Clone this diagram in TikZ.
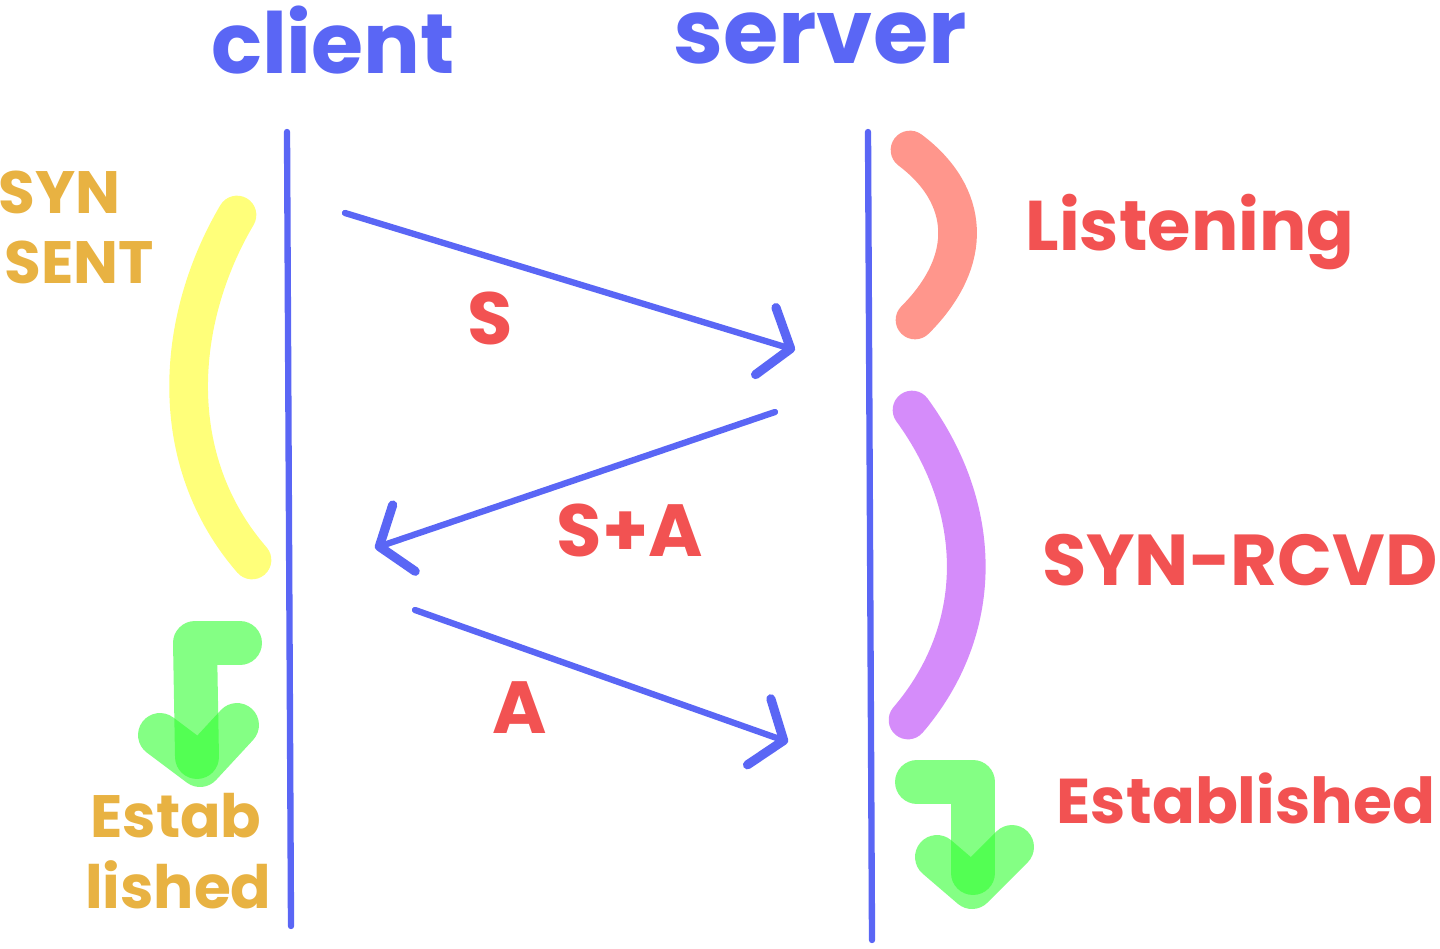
\documentclass[tikz,border=0pt]{standalone}
\usepackage{fontspec}
\setmainfont{Poppins}
\usetikzlibrary{arrows.meta, positioning}

\definecolor{lineblue}{RGB}{90,102,245}
\definecolor{msgred}{RGB}{242,82,82}
\definecolor{stateorange}{RGB}{232,178,66}
\definecolor{synyellow}{RGB}{255,255,122}
\definecolor{listensalmon}{RGB}{255,150,140}
\definecolor{rcvdpurple}{RGB}{213,140,250}
\definecolor{estgreen}{RGB}{50,255,50}

\begin{document}
\begin{tikzpicture}[
    x=0.01cm, y=-0.01cm,
    % Styles
    title/.style={font=\fontsize{24}{28}\selectfont\bfseries, text=lineblue},
    lifeline/.style={draw=lineblue, line width=1.8pt, line cap=round},
    msgarrow/.style={lineblue, line width=1.8pt, line cap=round,
        -{Straight Barb[length=2.6mm, width=7mm, line width=2.6pt, round]}},
    msglabel/.style={font=\fontsize{21}{24}\selectfont\bfseries, text=msgred},
    statelabel/.style={font=\fontsize{20}{22}\selectfont\bfseries, text=msgred},
    sidelabel/.style={font=\fontsize{17}{20}\selectfont\bfseries, text=stateorange},
    phasearc/.style={line width=11pt, line cap=round},
    greenarrow/.style={draw=estgreen, line width=12.5pt, line cap=round, line join=round, opacity=0.6},
]
    \useasboundingbox (0,0) rectangle (1440,949);

    % Titles
    \node[title] (client) at (333,40) {client};
    \node[title, font=\fontsize{25.5}{28}\selectfont\bfseries] (server) at (820,38) {server};

    % Lifelines
    \coordinate (ctop) at (287,132);
    \coordinate (cbot) at (291,926);
    \coordinate (stop) at (868,132);
    \coordinate (sbot) at (872,940);
    \draw[lifeline] (ctop) -- (cbot);
    \draw[lifeline] (stop) -- (sbot);

    % Handshake messages
    \coordinate (synA) at (345,213);
    \coordinate (synB) at (795,350);
    \coordinate (sackA) at (775,412);
    \coordinate (sackB) at (375,548);
    \coordinate (ackA) at (415,610);
    \coordinate (ackB) at (788,742);
    \draw[msgarrow] (synA) -- (synB);
    \draw[msgarrow] (sackA) -- (sackB);
    \draw[msgarrow] (ackA) -- (ackB);

    \node[msglabel] (slabel) at (490,318) {S};
    \node[msglabel] (salabel) at (630,530) {S+A};
    \node[msglabel] (alabel) at (520,708) {A};

    % State arcs
    \draw[phasearc, synyellow] (237,215) .. controls (175,320) and (165,460) .. (252,560);
    \draw[phasearc, listensalmon] (910,150) .. controls (970,195) and (975,260) .. (915,320);
    \draw[phasearc, rcvdpurple] (912,410) .. controls (985,510) and (985,630) .. (908,720);

    % Established arrows
    \draw[greenarrow] (240,643) -- (195,643) -- (197,757);
    \draw[greenarrow] (160,735) -- (200,765) -- (237,725);
    \draw[greenarrow] (917,782) -- (973,782) -- (973,873);
    \draw[greenarrow] (937,857) -- (972,887) -- (1012,847);

    % State labels
    \node[sidelabel, anchor=west] (syn) at (-14,192) {SYN};
    \node[sidelabel, anchor=west] (sent) at (-8,262) {SENT};
    \node[sidelabel, anchor=east] (estab) at (274,816) {Estab};
    \node[sidelabel, anchor=east] (lished) at (284,885) {lished};
    \node[statelabel] (listening) at (1190,232) {Listening};
    \node[statelabel, font=\fontsize{20.5}{24}\selectfont\bfseries] (synrcvd) at (1240,560) {SYN-RCVD};
    \node[statelabel, font=\fontsize{18}{20}\selectfont\bfseries] (sest) at (1246,798) {Established};

\end{tikzpicture}
\end{document}
